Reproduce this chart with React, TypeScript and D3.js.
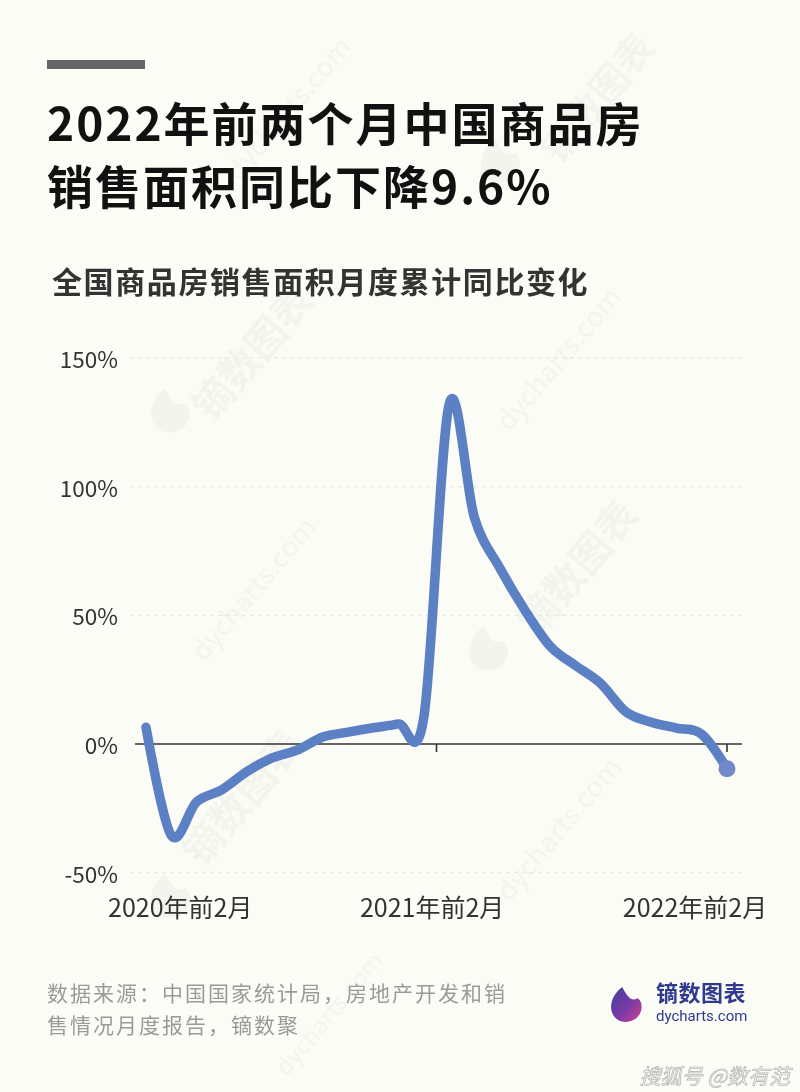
import React from 'react';
import * as d3 from 'd3';

// ---------- data ----------
const categories = [
  '2019年', '2020年前2月', '2020年前3月', '2020年前4月', '2020年前5月', '2020年前6月',
  '2020年前7月', '2020年前8月', '2020年前9月', '2020年前10月', '2020年前11月', '2020年前12月',
  '2021年前2月', '2021年前3月', '2021年前4月', '2021年前5月', '2021年前6月', '2021年前7月',
  '2021年前8月', '2021年前9月', '2021年前10月', '2021年前11月', '2021年前12月', '2022年前2月',
];
const values = [
  6.5, -35.5, -22.5, -17.8, -10.7, -5.4, -2.3, 2.7, 4.6, 6.3, 7.8, 10.5,
  132, 88, 68.5, 52, 38, 30.5, 23.5, 12.5, 8.5, 6.2, 3.8, -9.6,
];
const yTicks = [-50, 0, 50, 100, 150];
const xTickCategories = ['2020年前2月', '2021年前2月', '2022年前2月'];
const titleLines = ['2022年前两个月中国商品房', '销售面积同比下降9.6%'];
const subtitle = '全国商品房销售面积月度累计同比变化';
const sourceLines = ['数据来源：中国国家统计局，房地产开发和销', '售情况月度报告，镝数聚'];

const FONT = '"Noto Sans CJK SC", "Noto Sans", sans-serif';

export default function App() {
  const W = 800;
  const H = 1092;
  const plotLeft = 135;
  const plotRight = 742;

  const x = d3.scalePoint<string>().domain(categories).range([146, 727]);
  const y = d3.scaleLinear().domain([-50, 150]).range([872.7, 358]);

  const linePath = d3
    .line<number>()
    .x((_, i) => x(categories[i]) as number)
    .y((d) => y(d))
    .curve(d3.curveCardinal.tension(0))(values) as string;

  const step = x.step();
  const tickXs = [
    (x('2021年前2月') as number) - step / 2,
    x('2022年前2月') as number,
  ];
  const labelDx = [9, -17, -32];

  const lastIdx = values.length - 1;

  const wmText = [
    { t: 'dycharts.com', cx: 290, cy: 110, s: 28 },
    { t: '镝数图表', cx: 600, cy: 100, s: 38 },
    { t: '镝数图表', cx: 255, cy: 355, s: 40 },
    { t: 'dycharts.com', cx: 560, cy: 360, s: 28 },
    { t: 'dycharts.com', cx: 255, cy: 590, s: 28 },
    { t: '镝数图表', cx: 580, cy: 570, s: 40 },
    { t: '镝数图表', cx: 245, cy: 800, s: 40 },
    { t: 'dycharts.com', cx: 560, cy: 830, s: 28 },
    { t: 'dycharts.com', cx: 330, cy: 1015, s: 24 },
  ];
  const wmPetals = [
    { cx: 170, cy: 410 },
    { cx: 488, cy: 648 },
    { cx: 170, cy: 895 },
    { cx: 500, cy: 160 },
  ];

  const petal = (cx: number, cy: number, s: number) =>
    `M${cx - 0.2 * s},${cy - 0.9 * s} C${cx - 1.1 * s},${cy - 0.2 * s} ${cx - 0.9 * s},${cy + 0.9 * s} ${cx},${cy + 0.95 * s} C${cx + 0.9 * s},${cy + 0.9 * s} ${cx + 1.0 * s},${cy - 0.1 * s} ${cx + 0.6 * s},${cy - 0.3 * s} C${cx + 0.3 * s},${cy - 0.1 * s} ${cx + 0.05 * s},${cy - 0.4 * s} ${cx - 0.2 * s},${cy - 0.9 * s} Z`;

  return (
    <svg
      width={W}
      height={H}
      viewBox={`0 0 ${W} ${H}`}
      style={{ position: 'absolute', left: 0, top: 0, display: 'block' }}
      fontFamily={FONT}
    >
      <defs>
        <linearGradient id="logoGrad" x1="0" y1="0" x2="1" y2="1">
          <stop offset="0%" stopColor="#3a3f9a" />
          <stop offset="55%" stopColor="#7a3aa8" />
          <stop offset="100%" stopColor="#d0428f" />
        </linearGradient>
      </defs>
      <rect x={0} y={0} width={W} height={H} fill="#fcfcf6" />

      {/* watermarks */}
      <g fill="#000" opacity={0.035}>
        {wmText.map((w, i) => (
          <text
            key={i}
            x={w.cx}
            y={w.cy}
            fontSize={w.s}
            fontWeight={w.t === '镝数图表' ? 700 : 400}
            textAnchor="middle"
            dominantBaseline="middle"
            transform={`rotate(-50 ${w.cx} ${w.cy})`}
          >
            {w.t}
          </text>
        ))}
        {wmPetals.map((p, i) => (
          <path key={i} d={petal(p.cx, p.cy, 24)} />
        ))}
      </g>

      {/* header */}
      <rect x={47} y={60} width={98} height={9} fill="#666666" />
      {titleLines.map((t, i) => (
        <text
          key={i}
          x={47}
          y={141 + i * 63}
          fontSize={46}
          fontWeight={700}
          letterSpacing={2}
          fill="#111111"
        >
          {t}
        </text>
      ))}
      <text x={52} y={293} fontSize={30} fontWeight={600} letterSpacing={1.6} fill="#333333">
        {subtitle}
      </text>

      {/* grid + y labels */}
      {yTicks.map((v) => (
        <g key={v}>
          {v !== 0 && (
            <line
              x1={130}
              x2={plotRight}
              y1={y(v)}
              y2={y(v)}
              stroke="#e6e6e0"
              strokeWidth={1}
              strokeDasharray="4 4"
            />
          )}
          <text
            x={118}
            y={y(v)}
            fontSize={22.5}
            textAnchor="end"
            dominantBaseline="central"
            fill="#333333"
          >
            {`${v}%`}
          </text>
        </g>
      ))}

      {/* zero axis */}
      <line x1={plotLeft} x2={plotRight} y1={y(0)} y2={y(0)} stroke="#333333" strokeWidth={1.6} />
      {tickXs.map((tx, i) => (
        <line key={i} x1={tx} x2={tx} y1={y(0)} y2={y(0) + 8} stroke="#333333" strokeWidth={1.6} />
      ))}

      {/* x labels */}
      {xTickCategories.map((c, i) => (
        <text
          key={c}
          x={(x(c) as number) + labelDx[i]}
          y={917}
          fontSize={25}
          textAnchor="middle"
          fill="#333333"
        >
          {c}
        </text>
      ))}

      {/* series */}
      <path
        d={linePath}
        fill="none"
        stroke="#5c80c4"
        strokeWidth={9.5}
        strokeLinecap="round"
        strokeLinejoin="round"
      />
      <circle
        cx={x(categories[lastIdx]) as number}
        cy={y(values[lastIdx])}
        r={8.5}
        fill="#7189c9"
      />

      {/* footer */}
      {sourceLines.map((t, i) => (
        <text key={i} x={47} y={1001 + i * 32} fontSize={21} letterSpacing={2} fill="#9a9a9a">
          {t}
        </text>
      ))}
      <path d={petal(626, 1004, 19)} fill="url(#logoGrad)" />
      <text x={656} y={1001} fontSize={22} fontWeight={700} fill="#2f3a8f" letterSpacing={0.5}>
        镝数图表
      </text>
      <text x={656} y={1021} fontSize={15} fill="#2f3a8f" fontFamily="Roboto, sans-serif">
        dycharts.com
      </text>

      {/* platform mark */}
      <text
        x={790}
        y={1084}
        fontSize={21}
        textAnchor="end"
        fill="#ffffff"
        stroke="#b8b8b8"
        strokeWidth={0.8}
        fontStyle="italic"
      >
        搜狐号 @数有范
      </text>
    </svg>
  );
}
